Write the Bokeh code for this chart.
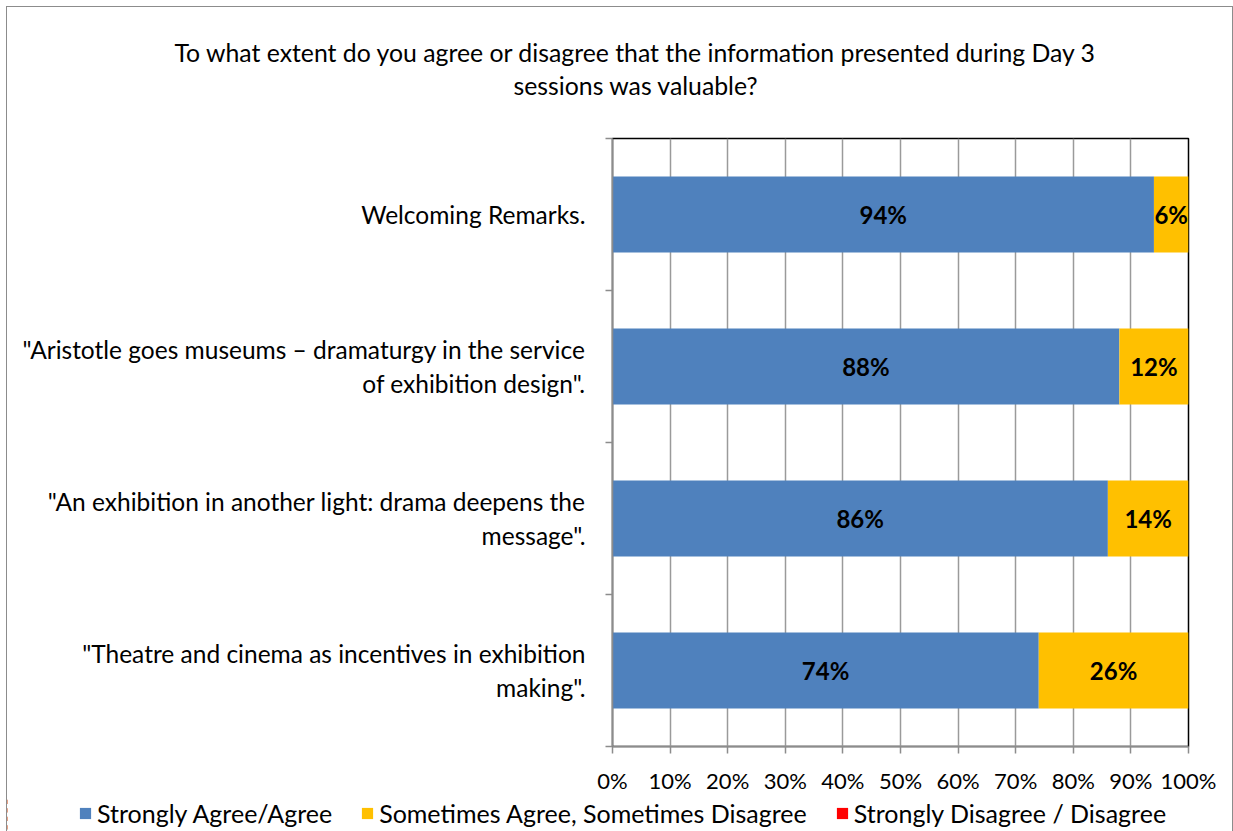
from bokeh.plotting import figure
from bokeh.layouts import column
from bokeh.models import (FixedTicker, NumeralTickFormatter, Legend, LegendItem,
                          ColumnDataSource, Range1d, Title)
from bokeh.core.properties import value
from bokeh.embed import file_html
from bokeh.resources import INLINE

# ---- data ----
categories = [
    "Welcoming Remarks.",
    "\"Aristotle goes museums \u2013 dramaturgy in the service\nof exhibition design\".",
    "\"An exhibition in another light: drama deepens the\nmessage\".",
    "\"Theatre and cinema as incentives in exhibition\nmaking\".",
]
agree = [0.94, 0.88, 0.86, 0.74]
sometimes = [0.06, 0.12, 0.14, 0.26]
disagree = [0.0, 0.0, 0.0, 0.0]
series_names = ["Strongly Agree/Agree", "Sometimes Agree, Sometimes Disagree",
                "Strongly Disagree / Disagree"]
colors = ["#4F81BD", "#FFC000", "#FF0000"]
x_ticks = [0, 0.1, 0.2, 0.3, 0.4, 0.5, 0.6, 0.7, 0.8, 0.9, 1.0]
title_lines = ["To what extent do you agree or disagree that the information presented during Day 3",
               "sessions was valuable?"]

FONT = "Lato"
FS = "24px"
n = len(categories)
ypos = [n - 0.5 - i for i in range(n)]

W = 1225
p = figure(width=W, height=790, output_backend="svg", toolbar_location=None,
           x_range=Range1d(0, 1), y_range=Range1d(0, n),
           min_border_left=605, min_border_right=44, min_border_top=131,
           min_border_bottom=51)
p.outline_line_color = "black"
p.outline_line_width = 1.5

src = ColumnDataSource(dict(y=ypos, a=agree, s=sometimes, d=disagree))
renderers = p.hbar_stack(["a", "s", "d"], y="y", height=0.5, color=colors, source=src,
                         line_width=0)

# data labels
for vals, lefts in ((agree, [0] * n), (sometimes, agree)):
    xs, ys, ts = [], [], []
    for i in range(n):
        if vals[i] > 0:
            xs.append(lefts[i] + vals[i] / 2)
            ys.append(ypos[i])
            ts.append(f"{round(vals[i] * 100)}%")
    p.text(x=xs, y=ys, text=ts, text_align="center", text_baseline="middle",
           text_font=value(FONT), text_font_size=FS, text_font_style="bold",
           text_color="black")

# grid
p.ygrid.visible = False
p.xgrid.ticker = FixedTicker(ticks=x_ticks)
p.xgrid.grid_line_color = "#9a9a9a"
p.xgrid.grid_line_width = 1.5

# x axis
xa = p.xaxis[0]
xa.ticker = FixedTicker(ticks=x_ticks)
xa.formatter = NumeralTickFormatter(format="0%")
xa.major_label_text_font = FONT
xa.major_label_text_font_size = "22px"
xa.major_label_text_color = "black"
xa.axis_line_color = "#8c8c8c"
xa.axis_line_width = 1.5
xa.major_tick_line_color = "#8c8c8c"
xa.major_tick_line_width = 1.5
xa.major_tick_in = 0
xa.major_tick_out = 7
xa.minor_tick_line_color = None
xa.major_label_standoff = 13

# y axis
ya = p.yaxis[0]
ya.ticker = FixedTicker(ticks=ypos, minor_ticks=list(range(n + 1)))
ya.major_label_overrides = {ypos[i]: categories[i] for i in range(n)}
ya.major_label_text_font = FONT
ya.major_label_text_font_size = "24.5px"
ya.major_label_text_color = "black"
ya.major_tick_line_color = None
ya.minor_tick_line_color = "#8c8c8c"
ya.minor_tick_line_width = 1.5
ya.minor_tick_in = 0
ya.minor_tick_out = 7
ya.axis_line_color = "#8c8c8c"
ya.axis_line_width = 1.5
ya.major_label_standoff = 20

# title (two lines) with a blank spacer next to the frame
p.add_layout(Title(text=" ", text_font_size="1px", standoff=36), "above")
p.add_layout(Title(text=title_lines[1], align="left", offset=-99, text_font=FONT,
                   text_font_size="24.8px", text_font_style="normal", text_color="black",
                   standoff=0), "above")
p.add_layout(Title(text=title_lines[0], align="left", offset=-438, text_font=FONT,
                   text_font_size="24.8px", text_font_style="normal", text_color="black",
                   standoff=4), "above")

# legend strip
lg = figure(width=W, height=34, output_backend="svg", toolbar_location=None,
            x_range=Range1d(2, 3), y_range=Range1d(0, n),
            x_axis_location=None, y_axis_location=None,
            min_border_left=0, min_border_right=0, min_border_top=0, min_border_bottom=0)
if "frame_align" in lg.properties():
    lg.frame_align = False
lg.grid.visible = False
lg.outline_line_color = None
lg_src = ColumnDataSource(dict(y=ypos, a=agree, s=sometimes, d=disagree))
lg_renderers = lg.hbar_stack(["a", "s", "d"], y="y", height=0.5, color=colors,
                             source=lg_src, line_width=0)
legend = Legend(items=[LegendItem(label=series_names[i], renderers=[lg_renderers[i]])
                       for i in range(3)],
                orientation="horizontal", location=(71, 3),
                label_text_font=FONT, label_text_font_size="25px", label_text_color="black",
                glyph_width=14, glyph_height=14, label_standoff=5, spacing=28,
                padding=0, margin=0, border_line_color=None,
                background_fill_alpha=0)
lg.add_layout(legend, "center")

layout = column(p, lg, spacing=0,
                styles={"border": "1px solid #8c8c8c", "margin": "6px 0 0 6px"})

open("out.html", "w").write(file_html(layout, INLINE))
